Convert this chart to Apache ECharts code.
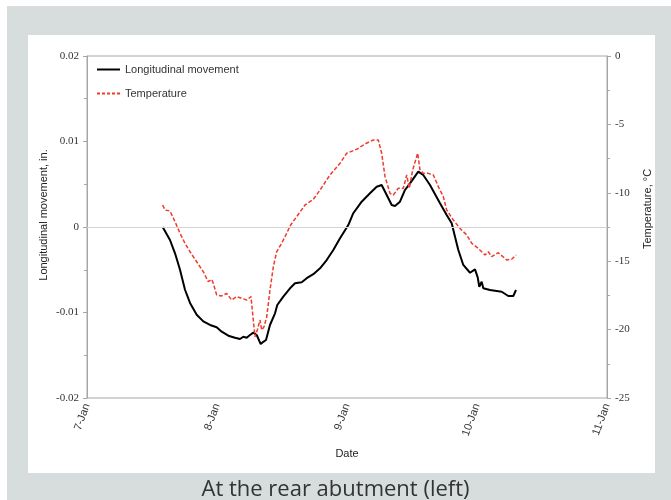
<!DOCTYPE html>
<html>
<head>
<meta charset="utf-8">
<script src="https://cdn.jsdelivr.net/npm/echarts@6/dist/echarts.min.js"></script>
<style>
  html, body { margin: 0; padding: 0; background: #ffffff; }
  #frame { position: absolute; left: 7px; top: 6px; width: 664px; height: 494px; background: #d6dddc; }
  #chart { position: absolute; left: 0; top: 0; width: 671px; height: 500px; }
</style>
</head>
<body>
<div id="frame"></div>
<div id="chart"></div>
<script>
// Day labels for the time axis (hours counted from 7-Jan 00:00)
const dayLabels = ['7-Jan', '8-Jan', '9-Jan', '10-Jan', '11-Jan'];

// Longitudinal movement, in.
const movementHours = [13.97, 15.32, 16.25, 17.17, 18.09, 19.02, 20.25, 21.47, 22.71, 23.94, 24.87, 26.09, 27.32, 28.25, 28.86, 29.48, 30.09, 30.70, 31.33, 31.62, 32.07, 32.55, 33.05, 33.78, 34.71, 35.13, 36.24, 37.48, 38.40, 39.64, 40.56, 41.78, 43.02, 44.25, 45.47, 46.71, 48.24, 49.16, 50.71, 52.24, 53.48, 54.40, 55.33, 56.25, 56.86, 57.78, 58.71, 59.63, 61.16, 62.08, 63.32, 65.17, 66.40, 67.33, 67.94, 68.55, 69.47, 70.71, 71.63, 72.13, 72.42, 72.86, 73.16, 74.40, 76.56, 77.78, 78.70, 79.20];
const movementValues = [0, -0.00152, -0.00308, -0.00500, -0.00734, -0.00888, -0.01026, -0.01104, -0.01146, -0.01172, -0.01224, -0.01271, -0.01295, -0.01310, -0.01283, -0.01295, -0.01263, -0.01236, -0.01263, -0.01251, -0.01369, -0.01343, -0.01322, -0.01146, -0.01010, -0.00912, -0.00815, -0.00717, -0.00658, -0.00646, -0.00599, -0.00552, -0.00483, -0.00386, -0.00269, -0.00132, 0.00023, 0.00161, 0.00296, 0.00394, 0.00471, 0.00491, 0.00374, 0.00257, 0.00246, 0.00296, 0.00433, 0.00511, 0.00648, 0.00608, 0.00491, 0.00277, 0.00140, 0.00043, -0.00113, -0.00269, -0.00444, -0.00535, -0.00495, -0.00589, -0.00699, -0.00640, -0.00717, -0.00737, -0.00757, -0.00807, -0.00807, -0.00737];

// Temperature, °C
const temperatureHours = [13.97, 14.40, 15.32, 16.25, 17.17, 18.09, 19.02, 20.25, 21.47, 22.39, 23.02, 23.32, 23.94, 24.87, 25.79, 26.71, 27.64, 28.56, 29.48, 30.28, 30.70, 31.02, 31.44, 31.94, 32.25, 32.68, 33.18, 33.78, 34.40, 35.02, 35.94, 36.55, 37.60, 38.71, 40.25, 41.78, 43.02, 44.86, 46.71, 47.94, 49.79, 51.32, 52.86, 53.78, 54.40, 55.02, 55.94, 56.55, 57.47, 58.40, 59.02, 59.50, 60.13, 61.05, 61.48, 62.09, 63.01, 63.94, 64.86, 65.78, 66.40, 67.63, 68.86, 70.10, 71.02, 72.24, 73.48, 74.09, 74.71, 75.93, 77.48, 78.40, 79.20];
const temperatureValues = [-10.89, -11.26, -11.33, -12.11, -12.96, -13.69, -14.31, -15.04, -15.77, -16.50, -16.33, -16.62, -17.47, -17.54, -17.35, -17.84, -17.59, -17.71, -17.84, -17.59, -19.30, -20.52, -20.03, -19.30, -20.03, -19.79, -19.06, -17.11, -15.40, -14.31, -13.69, -13.21, -12.35, -11.75, -10.89, -10.48, -9.80, -8.70, -7.84, -7.11, -6.82, -6.43, -6.14, -6.14, -7.11, -8.82, -10.04, -10.16, -9.67, -9.67, -8.70, -9.67, -8.33, -7.11, -8.33, -8.58, -8.58, -8.70, -9.55, -10.28, -11.26, -11.99, -12.60, -13.08, -13.69, -14.06, -14.55, -14.31, -14.67, -14.38, -14.91, -14.86, -14.55];

const pair = (xs, ys) => xs.map((x, i) => [x, ys[i]]);

const axisGray = '#a6a6a6';
const serifFont = '"Liberation Serif", "DejaVu Serif", serif';
const sansFont = '"Liberation Sans", Arial, sans-serif';
const tickLabel = { fontFamily: serifFont, fontSize: 11, color: '#333333', margin: 8 };

// Legend swatches: a solid bar and a row of dashes
const solidIcon = 'path://M0,0h23v2h-23z';
const dashIcon = 'path://M0,0h3v2h-3z M5,0h3v2h-3z M10,0h3v2h-3z M15,0h3v2h-3z M20,0h3v2h-3z';

const chart = echarts.init(document.getElementById('chart'), null, { renderer: 'canvas' });

chart.setOption({
  backgroundColor: 'transparent',
  animation: false,
  graphic: [
    { type: 'rect', z: -10, shape: { x: 28, y: 35, width: 627, height: 438 }, style: { fill: '#ffffff' } },
    { type: 'text', left: 'center', top: 479, style: { text: 'At the rear abutment (left)', font: '22px "Open Sans"', fill: '#333333' } },
    { type: 'text', x: 44, y: 215, rotation: Math.PI / 2, style: { text: 'Longitudinal movement, in.', font: '11px "Liberation Sans"', fill: '#222222', align: 'center', verticalAlign: 'middle' } },
    { type: 'text', x: 648, y: 209, rotation: Math.PI / 2, style: { text: 'Temperature, °C', font: '11px "Liberation Sans"', fill: '#222222', align: 'center', verticalAlign: 'middle' } }
  ],
  grid: { left: 87, top: 56, right: 64, bottom: 102, show: true, borderColor: axisGray, borderWidth: 1, backgroundColor: 'transparent' },
  legend: {
    orient: 'vertical', left: 97, top: 64, padding: 0, itemGap: 13, itemWidth: 23, itemHeight: 2,
    textStyle: { fontFamily: sansFont, fontSize: 11, color: '#333333' },
    data: [
      { name: 'Longitudinal movement', icon: solidIcon, itemStyle: { color: '#000000' } },
      { name: 'Temperature', icon: dashIcon, itemStyle: { color: '#ef3b2c' } }
    ]
  },
  xAxis: {
    type: 'value', min: 0, max: 96, interval: 24,
    name: 'Date', nameLocation: 'middle', nameGap: 50,
    nameTextStyle: { fontFamily: sansFont, fontSize: 11, color: '#222222' },
    axisLine: { lineStyle: { color: axisGray } },
    axisTick: { show: false },
    splitLine: { show: false },
    axisLabel: {
      rotate: 70, margin: 6, fontFamily: sansFont, fontSize: 11, color: '#333333',
      formatter: v => dayLabels[Math.round(v / 24)]
    }
  },
  yAxis: [
    {
      type: 'value', min: -0.02, max: 0.02, interval: 0.01,
      axisLine: { show: true, lineStyle: { color: axisGray } },
      axisTick: { show: true, length: 4, lineStyle: { color: axisGray } },
      minorTick: { show: true, splitNumber: 2, length: 3, lineStyle: { color: axisGray } },
      splitLine: { show: false },
      axisLabel: tickLabel
    },
    {
      type: 'value', min: -25, max: 0, interval: 5, position: 'right',
      axisLine: { show: true, lineStyle: { color: axisGray } },
      axisTick: { show: true, length: 4, lineStyle: { color: axisGray } },
      minorTick: { show: true, splitNumber: 2, length: 3, lineStyle: { color: axisGray } },
      splitLine: { show: false },
      axisLabel: tickLabel
    }
  ],
  series: [
    {
      name: 'Longitudinal movement', type: 'line', yAxisIndex: 0, symbol: 'none', z: 3,
      lineStyle: { color: '#000000', width: 2 }, itemStyle: { color: '#000000' },
      data: pair(movementHours, movementValues),
      markLine: {
        silent: true, symbol: 'none', label: { show: false },
        lineStyle: { color: '#d4d4d4', type: 'solid', width: 1 },
        data: [{ yAxis: 0 }]
      }
    },
    {
      name: 'Temperature', type: 'line', yAxisIndex: 1, symbol: 'none', z: 4,
      lineStyle: { color: '#ef3b2c', width: 1.5, type: [4, 2] }, itemStyle: { color: '#ef3b2c' },
      data: pair(temperatureHours, temperatureValues)
    }
  ]
});
</script>
</body>
</html>
